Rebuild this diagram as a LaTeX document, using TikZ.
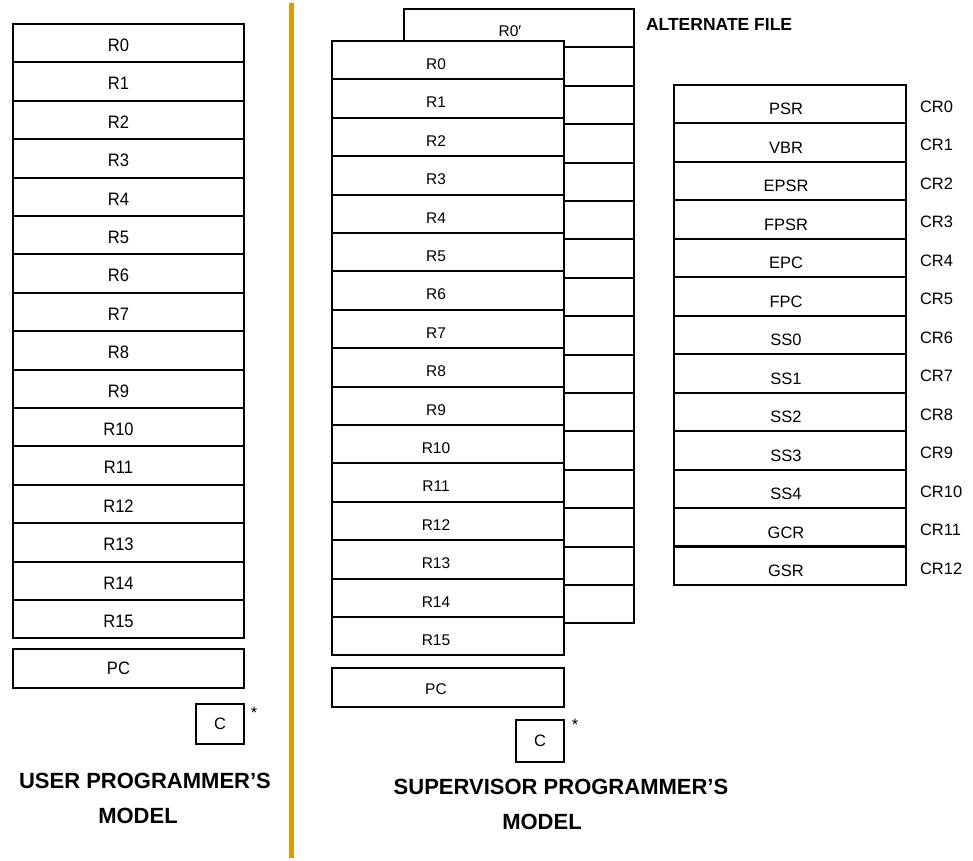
\documentclass[tikz,border=0pt]{standalone}
\usepackage{fontspec}
\setmainfont{Liberation Sans}
\newfontfamily\narrowfont[FakeStretch=0.92]{Liberation Sans}
\definecolor{barcol}{HTML}{DE9A00}
\begin{document}
\begin{tikzpicture}[x=1pt,y=-1pt,line width=2pt,
  reg/.style={draw, rectangle, inner sep=0pt, anchor=north west},
  ufont/.style={font=\narrowfont\fontsize{18}{21}\selectfont},
  sfont/.style={font=\fontsize{15.5}{18}\selectfont},
  cfont/.style={font=\fontsize{16.5}{19}\selectfont},
  ttl/.style={font=\fontsize{22}{25}\selectfont\bfseries, inner sep=0pt},
  crlab/.style={font=\fontsize{16.5}{19}\selectfont, anchor=west, inner sep=0pt},
]
\useasboundingbox (0,0) rectangle (973,860);
% divider
\coordinate (bartop) at (291,3);
\coordinate (barbot) at (291,858);
\draw[barcol, line width=5pt] (bartop) -- (barbot);

% user model
\foreach \i in {0,...,15}{
  \pgfmathsetmacro\ya{round(23+38.4*\i)}
  \pgfmathsetmacro\yb{round(23+38.4*(\i+1))}
  \node[reg, minimum width=231pt, minimum height={(\yb-\ya)*1pt},
        label={[ufont, xshift=-10pt, yshift=-2pt]center:R\i}] (u\i) at (12,\ya) {};
}
\node[reg, minimum width=231pt, minimum height=39pt,
      label={[ufont, xshift=-10pt]center:PC}] (upc) at (12,648) {};
\node[reg, minimum width=48pt, minimum height=40pt,
      label={[cfont]center:C}] (uc) at (195,703) {};
\node[cfont, inner sep=0pt] (ust) at (254,713) {*};
\node[ttl] (ut1) at (145,781) {USER PROGRAMMER’S};
\node[ttl] (ut2) at (138,816) {MODEL};

% supervisor model: alternate file behind
\foreach \i in {0,...,15}{
  \pgfmathsetmacro\ya{round(8+38.4*\i)}
  \pgfmathsetmacro\yb{round(8+38.4*(\i+1))}
  \node[reg, minimum width=230pt, minimum height={(\yb-\ya)*1pt}] (b\i) at (403,\ya) {};
}
\node[sfont, inner sep=0pt] (b0lab) at (510,31) {R0′};
\foreach \i in {0,...,15}{
  \pgfmathsetmacro\ya{round(40+38.4*\i)}
  \pgfmathsetmacro\yb{round(40+38.4*(\i+1))}
  \node[reg, fill=white, minimum width=232pt, minimum height={(\yb-\ya)*1pt},
        label={[sfont, xshift=-12pt, yshift=-4pt]center:R\i}] (s\i) at (331,\ya) {};
}
\node[reg, minimum width=232pt, minimum height=39pt,
      label={[sfont, xshift=-12pt, yshift=-2pt]center:PC}] (spc) at (331,667) {};
\node[reg, minimum width=48pt, minimum height=42pt,
      label={[cfont]center:C}] (sc) at (515,719) {};
\node[cfont, inner sep=0pt] (sst) at (575,725) {*};
\node[ttl] (st1) at (561,787) {SUPERVISOR PROGRAMMER’S};
\node[ttl] (st2) at (542,822) {MODEL};
\node[font=\fontsize{17.5}{20}\selectfont\bfseries, anchor=west, inner sep=0pt] (alt) at (645,24) {ALTERNATE FILE};

% control registers
\foreach \n [count=\k from 0] in {PSR,VBR,EPSR,FPSR,EPC,FPC,SS0,SS1,SS2,SS3,SS4,GCR,GSR}{
  \pgfmathsetmacro\ya{round(84+38.46*\k)}
  \pgfmathsetmacro\yb{round(84+38.46*(\k+1))}
  \node[reg, minimum width=232pt, minimum height={(\yb-\ya)*1pt},
        label={[cfont, xshift=-4pt, yshift=-5pt]center:\n}] (c\k) at (673,\ya) {};
  \node[crlab] (cr\k) at (919,{\ya+23}) {CR\k};
}
\draw[line width=3pt] (c12.north west) -- (c12.north east);
\end{tikzpicture}
\end{document}
